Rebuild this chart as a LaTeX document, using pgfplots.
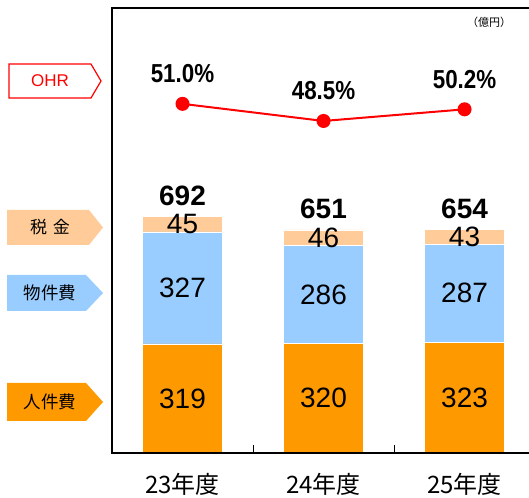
\documentclass[border=0pt]{standalone}
\usepackage{fontspec}
\setmainfont{Liberation Sans}
\newfontfamily\jp{Noto Sans CJK JP}
\newfontfamily\pctfont[FakeStretch=0.86]{Liberation Sans}
\usepackage{pgfplots}
\usepackage{pgfplotstable}
\pgfplotsset{compat=1.18}
\definecolor{cJin}{HTML}{FF9900}
\definecolor{cButsu}{HTML}{99CCFF}
\definecolor{cZei}{HTML}{FFCC99}
\definecolor{cRed}{HTML}{FF0000}

\pgfplotstableread{
x jin butsu zei total ohr
0 319 327 45 692 51.0
1 320 286 46 651 48.5
2 323 287 43 654 50.2
}\data

\begin{document}
\begin{tikzpicture}[x=1pt,y=1pt]
\useasboundingbox (0,0) rectangle (529,497);
\pgfplotsset{base/.style={at={(112pt,44pt)}, anchor=south west, scale only axis,
  width=417pt, height=445pt, xmin=-0.5, xmax=2.457, clip=false, enlargelimits=false}}
% bars
\begin{axis}[base, ybar stacked, bar width=0.57, ymin=0, ymax=1300,
  axis line style={draw=none}, ytick=\empty,
  xtick={0,1,2}, xticklabels={23年度,24年度,25年度},
  xticklabel style={font=\jp\fontsize{24}{24}\selectfont, anchor=base, yshift=-41pt},
  xtick pos=bottom, tick align=inside, major tick length=0pt,
  extra x ticks={0.5,1.5}, extra x tick labels={},
  extra x tick style={major tick length=8pt, tick style={black, line width=1pt}}]
\addplot[fill=cJin, draw=white, line width=0.6pt] table[x=x,y=jin]{\data};
\addplot[fill=cButsu, draw=white, line width=0.6pt] table[x=x,y=butsu]{\data};
\addplot[fill=cZei, draw=white, line width=0.6pt] table[x=x,y=zei]{\data};
\end{axis}
% labels
\begin{axis}[base, ymin=0, ymax=1300, hide axis]
\pgfplotsset{lab/.style={only marks, mark=*, mark size=0pt, mark options={draw=none,fill=none},
  nodes near coords={\pgfplotspointmeta}, point meta=explicit symbolic,
  nodes near coords style={anchor=center, font=\fontsize{28}{28}\selectfont, text=black}}}
\addplot[lab] table[x=x, y expr=\thisrow{jin}/2, meta=jin]{\data};
\addplot[lab] table[x=x, y expr=\thisrow{jin}+\thisrow{butsu}/2, meta=butsu]{\data};
\addplot[lab] table[x=x, y expr=\thisrow{jin}+\thisrow{butsu}+\thisrow{zei}/2, meta=zei]{\data};
\addplot[lab, nodes near coords style={anchor=base, yshift=11pt, font=\bfseries\fontsize{28}{28}\selectfont}]
  table[x=x, y expr=\thisrow{jin}+\thisrow{butsu}+\thisrow{zei}, meta=total]{\data};
\end{axis}
% OHR
\begin{axis}[base, ymin=0, ymax=65, hide axis]
\addplot[cRed, line width=2pt, mark=*, mark size=6pt, mark options={fill=cRed, draw=cRed},
  nodes near coords={\pgfplotspointmeta\%}, point meta=explicit symbolic,
  nodes near coords style={anchor=base, yshift=21pt, text=black, font=\pctfont\bfseries\fontsize{26}{26}\selectfont}]
  table[x=x, y=ohr, meta=ohr]{\data};
\draw[black, line width=1.6pt] (rel axis cs:1,1) -- (rel axis cs:0,1) -- (rel axis cs:0,0) -- (rel axis cs:1,0);
\end{axis}
% left labels
\draw[cRed, line width=1.2pt, fill=white] (9,433)--(91,433)--(101,416)--(91,399)--(9,399)--cycle;
\node[text=cRed, font=\fontsize{17}{17}\selectfont] at (50,416) {OHR};
\fill[cZei] (7,287)--(89,287)--(103,269.5)--(89,252)--(7,252)--cycle;
\node[font=\jp\fontsize{17}{17}\selectfont] at (50,269.5) {税\hspace{6pt}金};
\fill[cButsu] (7,222)--(86,222)--(103,204)--(86,186)--(7,186)--cycle;
\node[font=\jp\fontsize{17.5}{17.5}\selectfont] at (50,204) {物件費};
\fill[cJin] (7,114)--(86,114)--(103,95)--(86,76)--(7,76)--cycle;
\node[font=\jp\fontsize{17.5}{17.5}\selectfont] at (50,95) {人件費};
\node[font=\jp\fontsize{11}{11}\selectfont] at (489,475) {（億円）};
\end{tikzpicture}
\end{document}
